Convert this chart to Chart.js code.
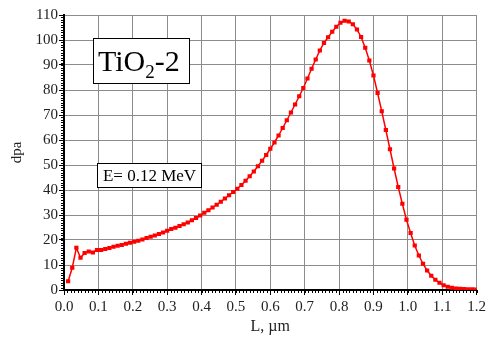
<!DOCTYPE html>
<html>
<head>
<meta charset="utf-8">
<script src="https://cdn.jsdelivr.net/npm/chart.js@4"></script>
<style>
  html, body { margin: 0; padding: 0; background: #fff; }
  #wrap { width: 489px; height: 338px; }
</style>
</head>
<body>
<div id="wrap"><canvas id="myChart" width="489" height="338"></canvas></div>
<script>
// depth L, um
const depth = [
  0.012, 0.024, 0.036, 0.048, 0.06, 0.072, 0.084, 0.096, 0.108, 0.12,
  0.132, 0.144, 0.156, 0.168, 0.18, 0.192, 0.204, 0.216, 0.228, 0.24,
  0.252, 0.264, 0.276, 0.288, 0.3, 0.312, 0.324, 0.336, 0.348, 0.36,
  0.372, 0.384, 0.396, 0.408, 0.42, 0.432, 0.444, 0.456, 0.468, 0.48,
  0.492, 0.504, 0.516, 0.528, 0.54, 0.552, 0.564, 0.576, 0.588, 0.6,
  0.612, 0.624, 0.636, 0.648, 0.66, 0.672, 0.684, 0.696, 0.708, 0.72,
  0.732, 0.744, 0.756, 0.768, 0.78, 0.792, 0.804, 0.816, 0.828, 0.84,
  0.852, 0.864, 0.876, 0.888, 0.9, 0.912, 0.924, 0.936, 0.948, 0.96,
  0.972, 0.984, 0.996, 1.008, 1.02, 1.032, 1.044, 1.056, 1.068, 1.08,
  1.092, 1.104, 1.116, 1.128, 1.14, 1.152, 1.164, 1.176, 1.188, 1.2
];
// damage, dpa
const dpa = [
  3.5, 8.9, 16.9, 12.9, 14.8, 15.4, 15.0, 16.0, 16.0, 16.4,
  16.8, 17.3, 17.7, 18.0, 18.5, 18.9, 19.3, 19.7, 20.2, 20.8,
  21.3, 21.8, 22.4, 23.0, 23.7, 24.4, 24.9, 25.6, 26.3, 27.0,
  27.9, 28.8, 29.8, 30.9, 31.9, 33.0, 34.1, 35.3, 36.6, 37.9,
  39.2, 40.5, 42.0, 43.7, 45.5, 47.4, 49.5, 51.7, 54.0, 56.5,
  59.0, 61.8, 64.8, 67.9, 71.0, 74.2, 77.5, 80.8, 84.6, 88.5,
  92.2, 95.8, 98.8, 101.1, 103.3, 105.3, 106.9, 107.7, 107.4, 106.3,
  104.2, 101.2, 96.9, 91.8, 85.8, 78.8, 71.5, 64.0, 56.3, 48.6,
  41.2, 34.5, 28.1, 22.8, 17.8, 13.8, 10.5, 7.8, 5.7, 4.1,
  2.9, 1.9, 1.3, 0.9, 0.6, 0.5, 0.4, 0.3, 0.3, 0.2
];
const xTicks = [0, 0.1, 0.2, 0.3, 0.4, 0.5, 0.6, 0.7, 0.8, 0.9, 1.0, 1.1, 1.2];
const yTicks = [0, 10, 20, 30, 40, 50, 60, 70, 80, 90, 100, 110];

const serif = "'Liberation Serif', 'Times New Roman', serif";

// small minor ticks on the two axes + the two label boxes
const extras = {
  id: "extras",
  afterDraw(chart) {
    const ctx = chart.ctx;
    const xs = chart.scales.x, ys = chart.scales.y;
    const a = chart.chartArea;
    ctx.save();
    ctx.strokeStyle = "#000";
    ctx.lineWidth = 1;
    ctx.beginPath();
    for (let i = 0; i <= 110; i++) {
      const py = Math.round(ys.getPixelForValue(i)) + 0.5;
      ctx.moveTo(a.left - 3, py);
      ctx.lineTo(a.left, py);
    }
    for (let i = 0; i <= 120; i++) {
      const px = Math.round(xs.getPixelForValue(i / 100)) + 0.5;
      ctx.moveTo(px, a.bottom);
      ctx.lineTo(px, a.bottom + 3);
    }
    ctx.stroke();

    // TiO2-2 box
    ctx.fillStyle = "#fff";
    ctx.fillRect(93, 38, 96, 45);
    ctx.strokeRect(93.5, 38.5, 96, 45);
    ctx.fillStyle = "#000";
    ctx.textBaseline = "alphabetic";
    ctx.textAlign = "left";
    ctx.font = "30px " + serif;
    let tx = 98;
    const ty = 71;
    ctx.fillText("TiO", tx, ty);
    tx += ctx.measureText("TiO").width;
    ctx.font = "19px " + serif;
    ctx.fillText("2", tx, ty + 7);
    tx += ctx.measureText("2").width;
    ctx.font = "30px " + serif;
    ctx.fillText("-2", tx, ty);

    // energy box
    ctx.fillStyle = "#fff";
    ctx.fillRect(97, 163, 104, 24);
    ctx.strokeRect(97.5, 163.5, 104, 24);
    ctx.fillStyle = "#000";
    ctx.font = "17px " + serif;
    ctx.textAlign = "center";
    ctx.fillText("E= 0.12 MeV", 149.5, 181);
    ctx.restore();
  }
};

const ctx = document.getElementById("myChart").getContext("2d");
const myChart = new Chart(ctx, {
  type: "line",
  data: {
    datasets: [
      {
        label: "dpa",
        data: depth.map((x, i) => ({ x: x, y: dpa[i] })),
        borderColor: "#ff0000",
        backgroundColor: "#ff0000",
        borderWidth: 1.5,
        pointStyle: "rect",
        pointRadius: 3,
        pointBorderWidth: 0,
        tension: 0,
      },
    ],
  },
  options: {
    responsive: false,
    animation: false,
    layout: { padding: { top: 15, right: 8, left: 0, bottom: 0 } },
    plugins: { legend: { display: false }, tooltip: { enabled: false } },
    scales: {
      x: {
        type: "linear",
        min: 0,
        max: 1.2,
        afterBuildTicks: (s) => { s.ticks = xTicks.map((v) => ({ value: v })); },
        afterFit: (s) => { s.height = 48; },
        ticks: {
          autoSkip: false,
          maxRotation: 0,
          padding: 3,
          color: "#222",
          font: { family: serif, size: 15 },
          callback: (v) => Number(v).toFixed(1),
        },
        grid: { color: "#8c8c8c", lineWidth: 1, tickLength: 5, tickColor: "#000" },
        border: { color: "#000", width: 2 },
        title: {
          display: true,
          text: "L, µm",
          color: "#222",
          font: { family: serif, size: 16 },
          padding: { top: 0, bottom: 2 },
        },
      },
      y: {
        min: 0,
        max: 110,
        afterBuildTicks: (s) => { s.ticks = yTicks.map((v) => ({ value: v })); },
        afterFit: (s) => { s.width = 64; },
        ticks: {
          padding: 1,
          color: "#222",
          font: { family: serif, size: 15 },
        },
        grid: { color: "#8c8c8c", lineWidth: 1, tickLength: 5, tickColor: "#000" },
        border: { color: "#000", width: 2 },
        title: {
          display: true,
          text: "dpa",
          color: "#222",
          font: { family: serif, size: 15 },
          padding: { top: 8, bottom: 0 },
        },
      },
    },
  },
  plugins: [extras],
});
</script>
</body>
</html>
